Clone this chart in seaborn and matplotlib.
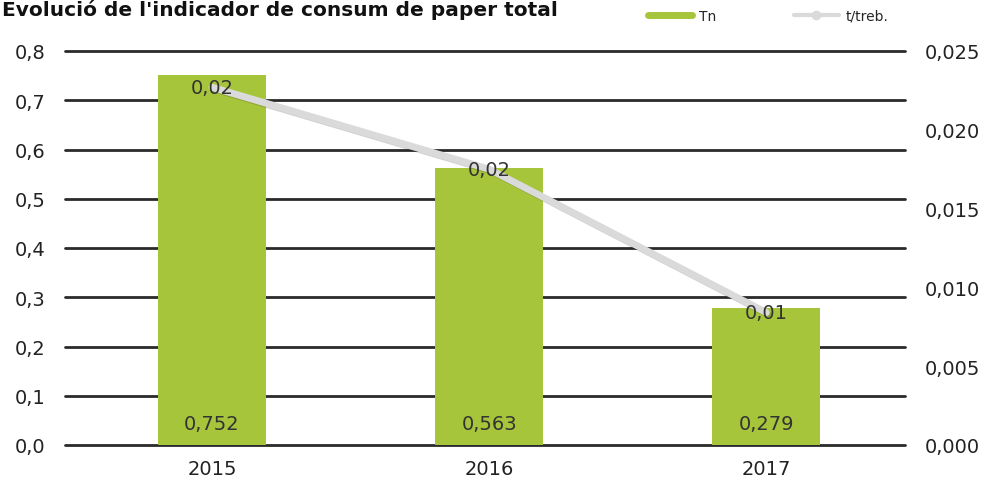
import matplotlib
matplotlib.use("Agg")
import matplotlib.pyplot as plt
import matplotlib.patheffects as pe
from matplotlib.lines import Line2D
import seaborn as sns
import pandas as pd

years = ["2015", "2016", "2017"]
tn = [0.752, 0.563, 0.279]
t_treb = [0.0227, 0.0175, 0.0084]
t_treb_labels = ["0,02", "0,02", "0,01"]
left_ticks = [0.0, 0.1, 0.2, 0.3, 0.4, 0.5, 0.6, 0.7, 0.8]
right_ticks = [0.0, 0.005, 0.010, 0.015, 0.020, 0.025]

bar_color = "#a6c53a"
line_color = "#dadada"

sns.set_theme(style="white")
plt.rcParams["font.family"] = ["DejaVu Sans"]

data = pd.DataFrame({"Any": years, "Tn": tn, "t/treb.": t_treb})

fig = plt.figure(figsize=(9.87, 4.81), dpi=100)
ax = fig.add_axes([65 / 987, 35 / 481, 840 / 987, 394 / 481])

for y in left_ticks:
    ax.axhline(y, color="#2a2a2a", lw=2, zorder=0, clip_on=False)

sns.barplot(data, x="Any", y="Tn", color=bar_color, width=0.39, saturation=1,
            edgecolor="none", linewidth=0, ax=ax)
for p in ax.patches:
    p.set_zorder(3)
ax.set_xlim(-0.53, 2.5)
ax.set_ylim(0, 0.8)
ax.set_yticks(left_ticks)
ax.set_yticklabels([f"{v:.1f}".replace(".", ",") for v in left_ticks], fontsize=14, color="#222222")
ax.set_xlabel("")
ax.set_ylabel("")
ax.tick_params(axis="x", labelsize=14, colors="#222222", pad=10, length=0)
ax.tick_params(axis="y", pad=14, length=0)
for s in ax.spines.values():
    s.set_visible(False)

for i, v in enumerate(tn):
    ax.text(i, 0.043, f"{v:.3f}".replace(".", ","), ha="center", va="center",
            fontsize=14, color="#333333", zorder=5)

ax2 = ax.twinx()
sns.lineplot(data, x="Any", y="t/treb.", color=line_color, lw=5, ax=ax2, zorder=4,
             path_effects=[pe.SimpleLineShadow(offset=(1, -1), alpha=0.2), pe.Normal()])
ax2.set_ylim(0, 0.025)
ax2.set_xlim(-0.53, 2.5)
ax2.set_yticks(right_ticks)
ax2.set_yticklabels([f"{v:.3f}".replace(".", ",") for v in right_ticks], fontsize=14, color="#222222")
ax2.set_ylabel("")
ax2.tick_params(axis="y", pad=14, length=0)
for s in ax2.spines.values():
    s.set_visible(False)

for i, (v, lab) in enumerate(zip(t_treb, t_treb_labels)):
    ax2.text(i, v, lab, ha="center", va="center", fontsize=14, color="#333333", zorder=6)

fig.text(0.002, 0.999, "Evolució de l'indicador de consum de paper total", fontsize=14.5,
         fontweight="bold", ha="left", va="top", color="#111111")

handles = [Line2D([], [], color=bar_color, lw=5),
           Line2D([], [], color=line_color, lw=3, marker="o", markersize=6,
                  markerfacecolor=line_color, markeredgecolor=line_color)]
fig.legend(handles, ["Tn", "t/treb."], loc="center", bbox_to_anchor=(768 / 987, 1 - 17 / 481),
           ncol=2, frameon=False, fontsize=10, handlelength=3.2, columnspacing=5.6,
           handletextpad=0.5)

fig.savefig("out.png", dpi=100)
